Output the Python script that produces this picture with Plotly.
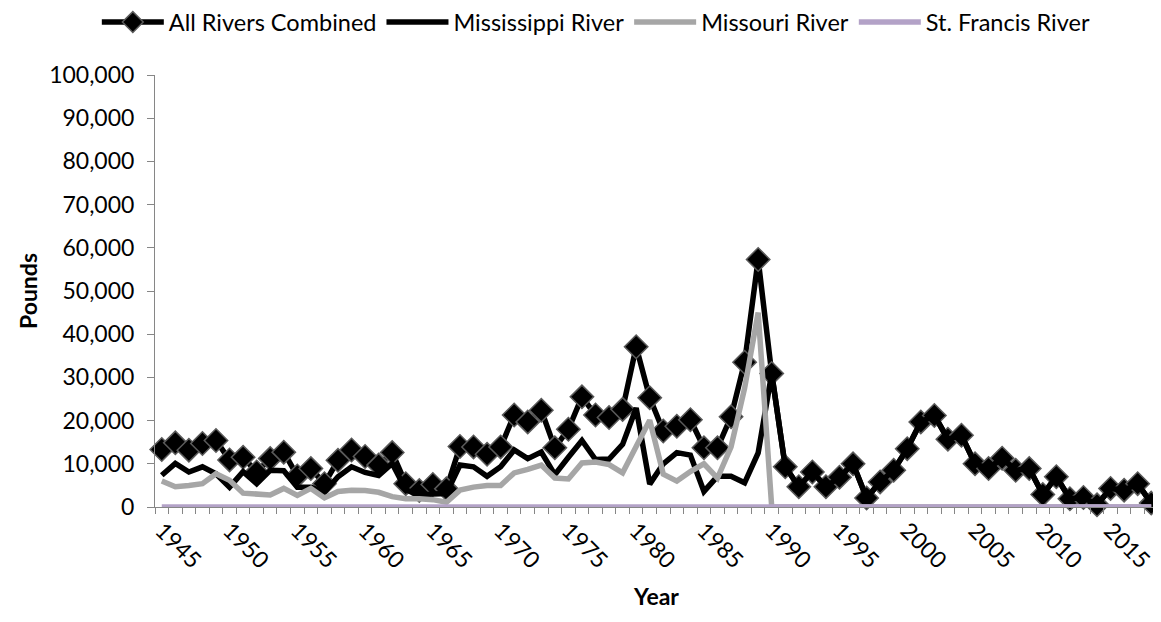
import plotly.graph_objects as go

years = list(range(1945, 2019))

all_rivers = [
    13300, 14850, 13150, 14700, 15400, 10900, 11500, 8100, 11200, 12700,   # 1945-1954
    7200, 8900, 5400, 10800, 13200, 11700, 9700, 12600, 5400, 3800,        # 1955-1964
    5200, 4200, 14000, 13900, 12200, 13900, 21300, 19700, 22400, 13700,    # 1965-1974
    18000, 25500, 21300, 20700, 22600, 37100, 25300, 17600, 18700, 20200,  # 1975-1984
    13700, 13700, 20900, 33500, 57300, 30900, 9300, 4700, 8100, 4700,      # 1985-1994
    6900, 10000, 2100, 5800, 8500, 13500, 19700, 21200, 15700, 16600,      # 1995-2004
    10000, 8900, 11300, 8500, 8900, 2900, 7000, 1900, 2200, 500,           # 2005-2014
    4300, 3900, 5400, 900,                                                 # 2015-2018
]

mississippi = [
    7350, 10100, 8100, 9300, 7700, 4600, 8200, 5400, 8500, 8400,           # 1945-1954
    4600, 4600, 3400, 7000, 9300, 8000, 7300, 10100, 4000, 2700,           # 1955-1964
    3000, 3100, 9700, 9300, 7100, 9300, 13200, 11200, 12700, 7500,         # 1965-1974
    11500, 15400, 11000, 11100, 14500, 22900, 5300, 10000, 12600, 12000,   # 1975-1984
    3600, 7100, 7100, 5600, 12500, 30900, 9300, 4700, 8100, 4700,          # 1985-1994
    6900, 10000, 2100, 5800, 8500, 13500, 19700, 21200, 15700, 16600,      # 1995-2004
    10000, 8900, 11300, 8500, 8900, 2900, 7000, 1900, 2200, 500,           # 2005-2014
    4300, 3900, 5400, 900,                                                 # 2015-2018
]

missouri = [
    6000, 4700, 5000, 5400, 7700, 6200, 3200, 2900, 2800, 4300,            # 1945-1954
    2700, 4300, 2100, 3600, 3900, 3800, 3400, 2400, 1900, 1900,            # 1955-1964
    1700, 1100, 3900, 4600, 5000, 5000, 7900, 8700, 9700, 6700,            # 1965-1974
    6500, 10200, 10400, 9800, 7900, 14000, 20100, 7600, 6000, 8200,        # 1975-1984
    10000, 6700, 13900, 27500, 45000, 0, 0, 0, 0, 0,                       # 1985-1994
    0, 0, 0, 0, 0, 0, 0, 0, 0, 0,                                          # 1995-2004
    0, 0, 0, 0, 0, 0, 0, 0, 0, 0,                                          # 2005-2014
    0, 0, 0, 0,                                                            # 2015-2018
]

st_francis = [
    0, 0, 100, 150, 150, 150, 100, 0, 0, 0,                                # 1945-1954
    0, 0, 0, 0, 0, 0, 0, 0, 0, 0,                                          # 1955-1964
    0, 0, 0, 0, 0, 0, 0, 0, 0, 0,                                          # 1965-1974
    0, 0, 0, 0, 200, 250, 100, 0, 0, 0,                                    # 1975-1984
    0, 0, 0, 0, 0, 0, 0, 0, 0, 0,                                          # 1985-1994
    0, 0, 0, 0, 0, 0, 0, 0, 0, 0,                                          # 1995-2004
    0, 0, 0, 0, 0, 0, 0, 0, 0, 0,                                          # 2005-2014
    0, 0, 0, 0,                                                            # 2015-2018
]

label_years = list(range(1945, 2016, 5))
y_ticks = list(range(0, 100001, 10000))

FONT = "Lato, Carlito, Calibri, sans-serif"
FS = 23

fig = go.Figure()
fig.add_trace(go.Scatter(
    x=years, y=all_rivers, name="All Rivers Combined", mode="lines+markers",
    line=dict(color="black", width=5.5),
    marker=dict(symbol="diamond", size=18, color="black",
                line=dict(color="#5a5a5a", width=1.5)),
    cliponaxis=False,
))
fig.add_trace(go.Scatter(
    x=years, y=mississippi, name="Mississippi River", mode="lines",
    line=dict(color="black", width=5.5), cliponaxis=False,
))
fig.add_trace(go.Scatter(
    x=years, y=missouri, name="Missouri River", mode="lines",
    line=dict(color="#a6a6a6", width=5.5), cliponaxis=False,
))
fig.add_trace(go.Scatter(
    x=years, y=st_francis, name="St. Francis River", mode="lines",
    line=dict(color="#b3a2c7", width=5.5), cliponaxis=False,
))

# page body adds an 8px offset; size the figure to fit the 1161x622 window
fig.update_layout(
    width=1153, height=606,
    margin=dict(l=147, r=3, t=67, b=107, autoexpand=False),
    paper_bgcolor="white", plot_bgcolor="white",
    font=dict(family=FONT, size=FS, color="black"),
    showlegend=True,
    legend=dict(orientation="h", x=0.44, xanchor="center", y=1.122, yanchor="middle",
                font=dict(size=23.5), itemwidth=62, tracegroupgap=0),
    xaxis=dict(
        range=[1944.5, 2018.5],
        tickvals=label_years, ticktext=[str(y) for y in label_years],
        tickangle=45, ticks="", showgrid=False, zeroline=False,
        showline=True, linecolor="#868686", linewidth=1,
        tickfont=dict(size=FS),
        minor=dict(tick0=1944.5, dtick=1, ticks="outside", ticklen=6,
                   tickcolor="#868686", showgrid=False),
        title=dict(text="<b>Year</b>", font=dict(size=FS), standoff=16),
    ),
    yaxis=dict(
        range=[0, 100000], tickvals=y_ticks, tickformat=",",
        ticks="outside", ticklen=7, tickcolor="#868686",
        ticklabelstandoff=8,
        showgrid=False, zeroline=False,
        showline=True, linecolor="#868686", linewidth=1,
        tickfont=dict(size=FS),
        title=dict(text="<b>Pounds</b>", font=dict(size=FS), standoff=5),
    ),
)

fig.write_html("out.html")
